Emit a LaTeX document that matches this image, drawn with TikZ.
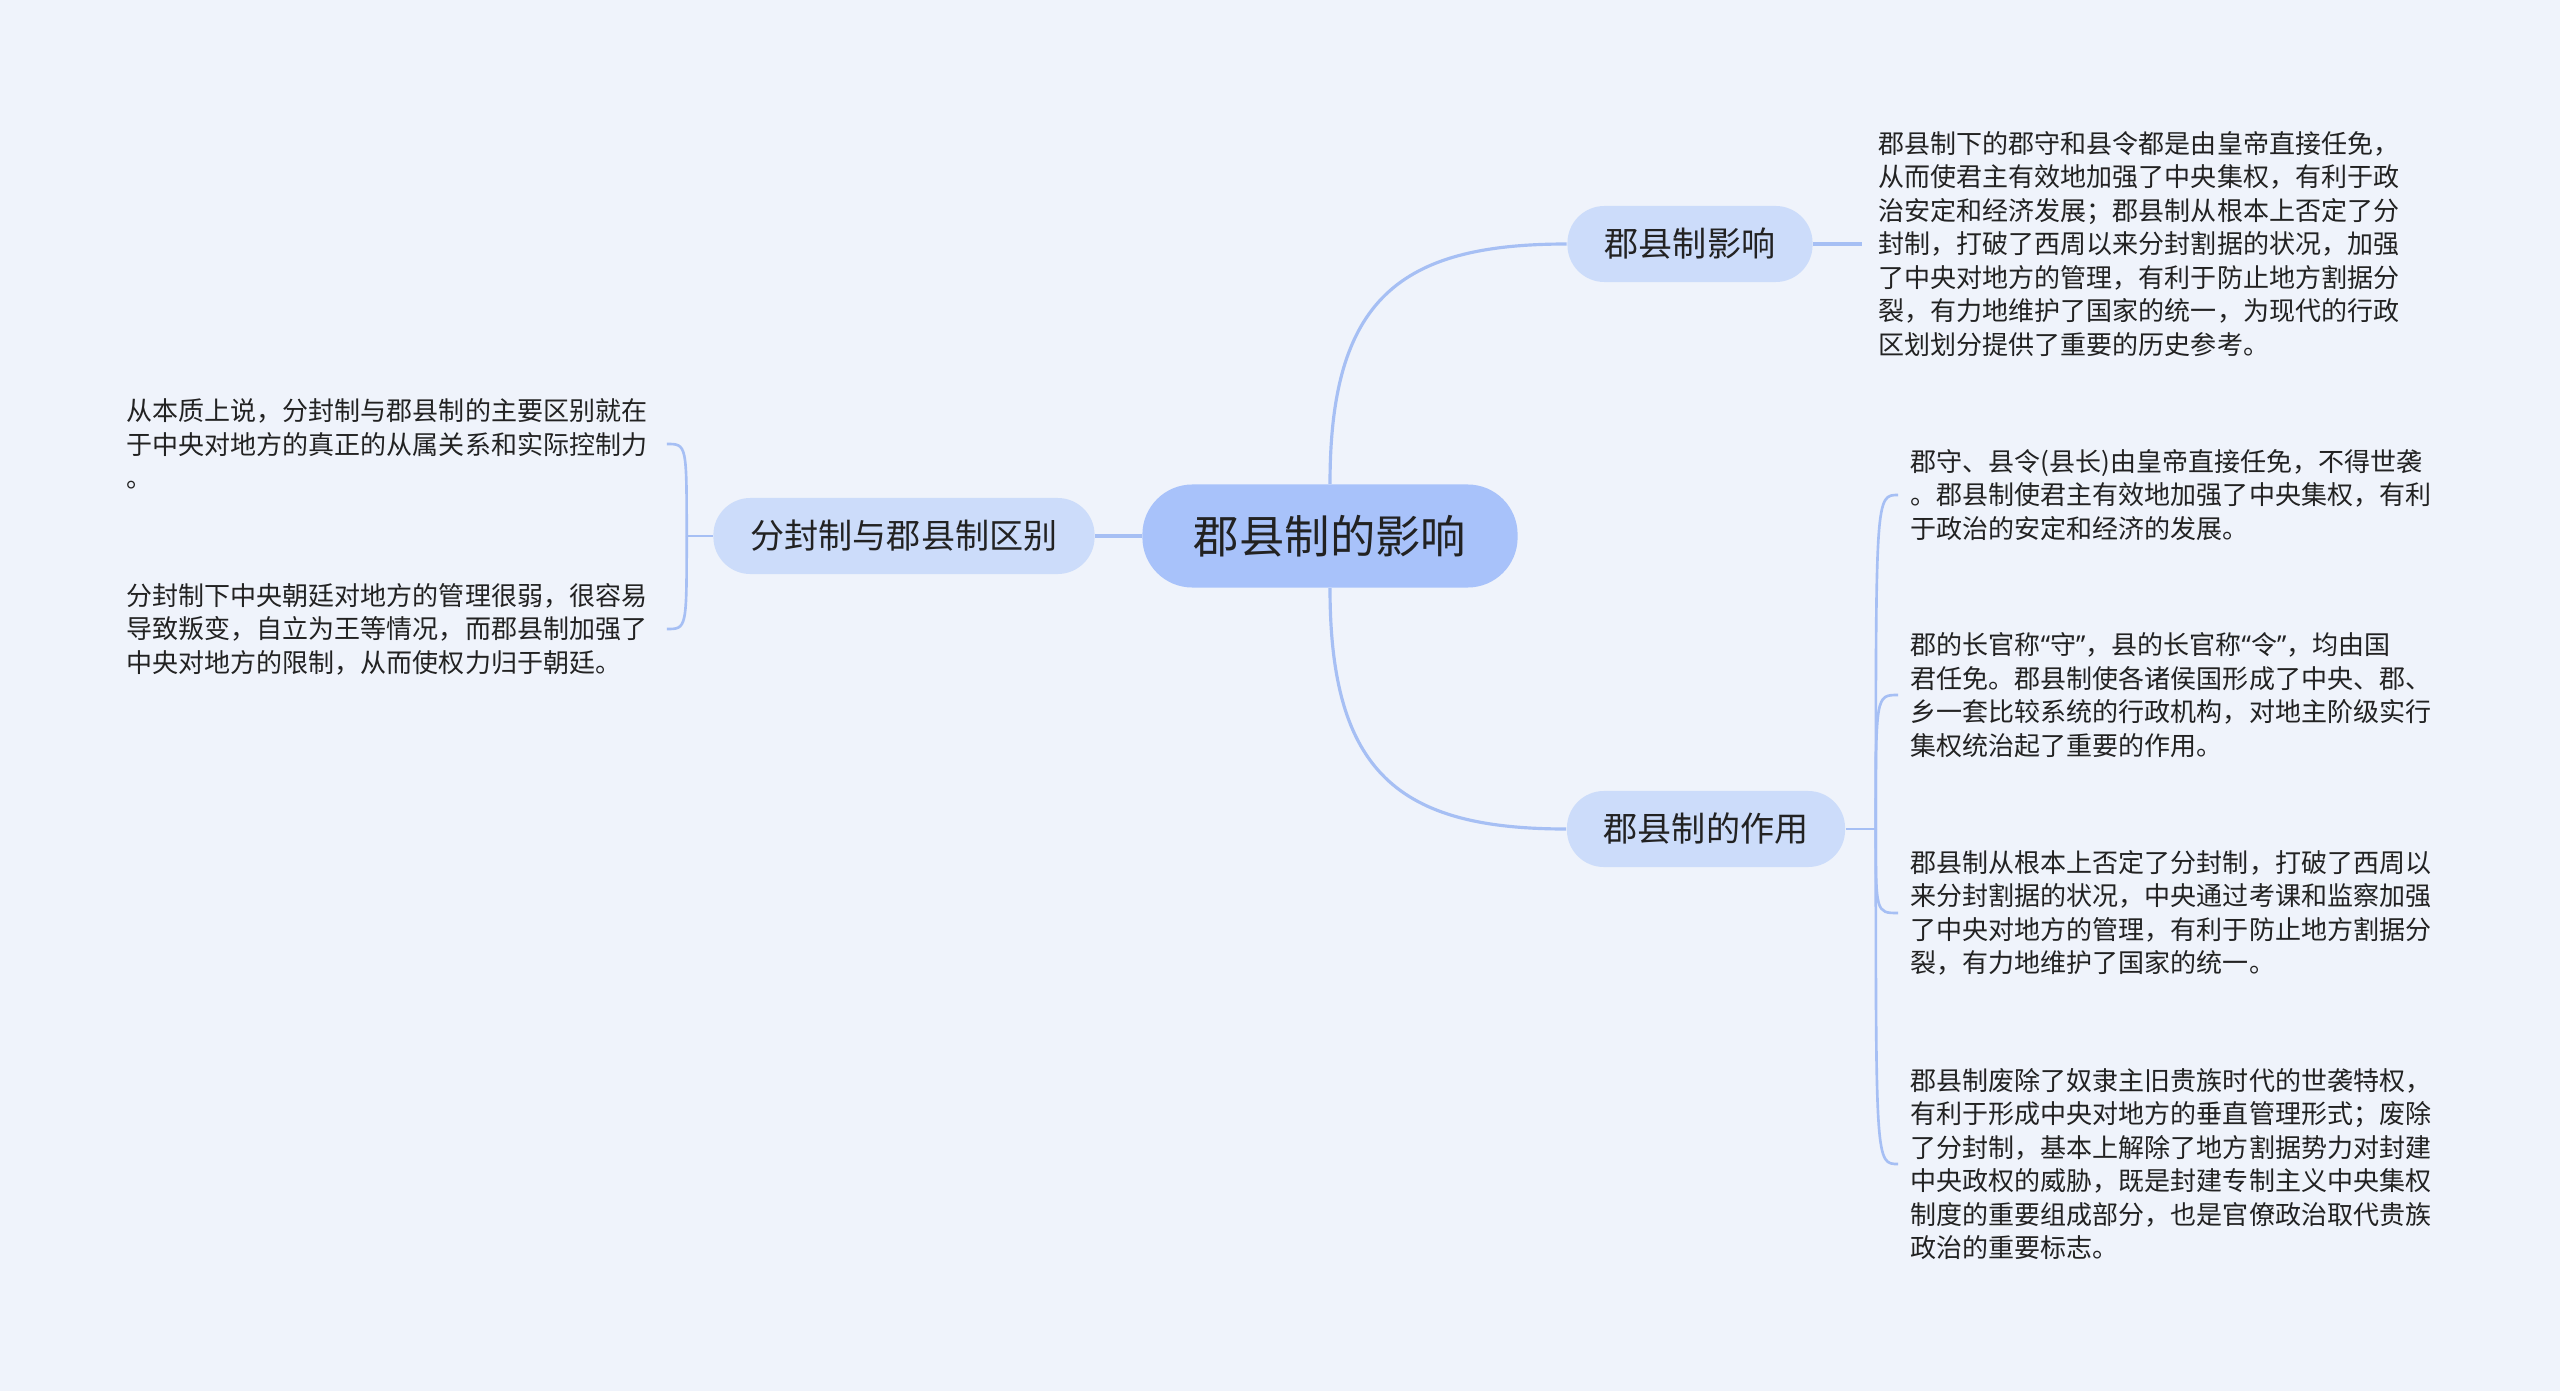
\documentclass[tikz,border=0pt]{standalone}
\usepackage{fontspec}
\newfontfamily\cjk{Noto Sans CJK SC}
\newfontfamily\quotefont{Noto Sans}
\newcommand{\openq}{{\quotefont “}}
\newcommand{\closeq}{{\quotefont ”}}
\usetikzlibrary{positioning,calc}

\definecolor{bgc}{RGB}{239,243,251}
\definecolor{rootc}{RGB}{168,194,250}
\definecolor{topicc}{RGB}{204,220,250}
\definecolor{linkc}{RGB}{166,191,244}
\definecolor{textc}{RGB}{34,34,34}

\begin{document}
\begin{tikzpicture}[
    x=0.01cm, y=-0.01cm,
    font=\cjk,
    text=textc,
    rootbox/.style={
        fill=rootc,
        rounded corners=0.5cm,
        minimum width=3.75cm,
        minimum height=1.03cm,
        inner sep=0pt,
        font=\cjk\fontsize{12.9pt}{15pt}\selectfont
    },
    topicbox/.style={
        fill=topicc,
        rounded corners=0.37cm,
        minimum height=0.76cm,
        inner sep=0pt,
        font=\cjk\fontsize{9.7pt}{12pt}\selectfont
    },
    leaftext/.style={
        anchor=west,
        align=left,
        inner sep=0pt,
        font=\cjk\fontsize{7.4pt}{9.53pt}\selectfont
    },
    link/.style={draw=linkc, line width=0.9pt},
    leaflink/.style={draw=linkc, line width=0.75pt}
]

% Background
\fill[bgc] (0,0) rectangle (2560,1391);

% Central topic
\node[rootbox] (root) at (1330,536) {郡县制的影响};

% Main topics
\node[topicbox, minimum width=2.45cm] (impact) at (1690,244) {郡县制影响};
\node[topicbox, minimum width=2.78cm] (role) at (1706,829) {郡县制的作用};
\node[topicbox, minimum width=3.81cm] (diff) at (904,536) {分封制与郡县制区别};

% Notes, right side
\node[leaftext] (impactnote) at (1878,244) {郡县制下的郡守和县令都是由皇帝直接任免，\\
从而使君主有效地加强了中央集权，有利于政\\
治安定和经济发展；郡县制从根本上否定了分\\
封制，打破了西周以来分封割据的状况，加强\\
了中央对地方的管理，有利于防止地方割据分\\
裂，有力地维护了国家的统一，为现代的行政\\
区划划分提供了重要的历史参考。};

\node[leaftext] (role1) at (1910,495) {郡守、县令(县长)由皇帝直接任免，不得世袭\\
。郡县制使君主有效地加强了中央集权，有利\\
于政治的安定和经济的发展。};

\node[leaftext] (role2) at (1910,695) {郡的长官称\openq 守\closeq ，县的长官称\openq 令\closeq ，均由国\\
君任免。郡县制使各诸侯国形成了中央、郡、\\
乡一套比较系统的行政机构，对地主阶级实行\\
集权统治起了重要的作用。};

\node[leaftext] (role3) at (1910,913) {郡县制从根本上否定了分封制，打破了西周以\\
来分封割据的状况，中央通过考课和监察加强\\
了中央对地方的管理，有利于防止地方割据分\\
裂，有力地维护了国家的统一。};

\node[leaftext] (role4) at (1910,1164) {郡县制废除了奴隶主旧贵族时代的世袭特权，\\
有利于形成中央对地方的垂直管理形式；废除\\
了分封制，基本上解除了地方割据势力对封建\\
中央政权的威胁，既是封建专制主义中央集权\\
制度的重要组成部分，也是官僚政治取代贵族\\
政治的重要标志。};

% Notes, left side
\node[leaftext] (diff1) at (126,444) {从本质上说，分封制与郡县制的主要区别就在\\
于中央对地方的真正的从属关系和实际控制力\\
。};

\node[leaftext] (diff2) at (126,629) {分封制下中央朝廷对地方的管理很弱，很容易\\
导致叛变，自立为王等情况，而郡县制加强了\\
中央对地方的限制，从而使权力归于朝廷。};

% Root to topics
\draw[link] (root.north) .. controls +(0,-185) and +(-167,0) .. (impact.west);
\draw[link] (root.south) .. controls +(0,185) and +(-167,0) .. (role.west);
\draw[link] (root.west) -- (diff.east);

% Topic to notes
\draw[link] (impact.east) -- ($(impactnote.west)+(-16,0)$);

\coordinate (rolefork) at ($(role.east)+(30,0)$);
\draw[leaflink] (role.east) -- (rolefork);
\foreach \n in {role1,role2,role3,role4}
    \draw[leaflink] (rolefork) .. controls (rolefork |- \n.west) and (rolefork |- \n.west) .. ($(\n.west)+(-12,0)$);

\coordinate (difffork) at ($(diff.west)+(-26,0)$);
\draw[leaflink] (diff.west) -- (difffork);
\foreach \n in {diff1,diff2}
    \draw[leaflink] (difffork) .. controls (difffork |- \n.east) and (difffork |- \n.east) .. ($(\n.east)+(19,0)$);

\end{tikzpicture}
\end{document}
